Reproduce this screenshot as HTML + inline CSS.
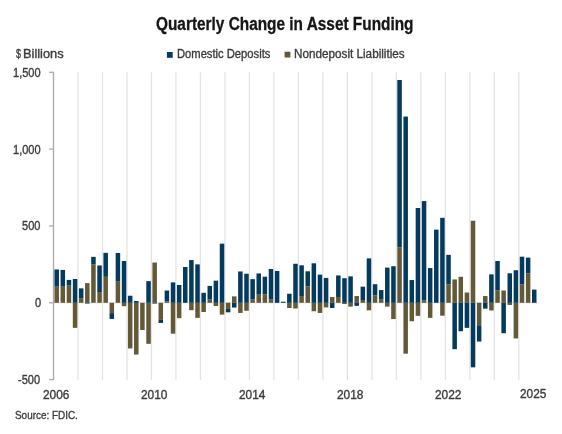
<!DOCTYPE html>
<html><head><meta charset="utf-8">
<style>
html,body{margin:0;padding:0;background:#fff;}
body{width:562px;height:434px;position:relative;overflow:hidden;font-family:"Liberation Sans",sans-serif;}
.t{position:absolute;white-space:nowrap;line-height:1;transform-origin:0 0;-webkit-text-stroke:0.35px currentColor;}
.t:first-of-type{-webkit-text-stroke:0.3px currentColor;}
svg{position:absolute;left:0;top:0;}
#wrap{position:absolute;left:0;top:0;width:562px;height:434px;filter:blur(0.35px);}
</style></head><body><div id="wrap">
<svg width="562" height="434" viewBox="0 0 562 434">
<line x1="77.99" y1="72.3" x2="77.99" y2="380" stroke="#e4e4e4" stroke-width="1.3"/>
<line x1="102.48" y1="72.3" x2="102.48" y2="380" stroke="#e4e4e4" stroke-width="1.3"/>
<line x1="126.97" y1="72.3" x2="126.97" y2="380" stroke="#e4e4e4" stroke-width="1.3"/>
<line x1="151.46" y1="72.3" x2="151.46" y2="380" stroke="#e4e4e4" stroke-width="1.3"/>
<line x1="175.95" y1="72.3" x2="175.95" y2="380" stroke="#e4e4e4" stroke-width="1.3"/>
<line x1="200.44" y1="72.3" x2="200.44" y2="380" stroke="#e4e4e4" stroke-width="1.3"/>
<line x1="224.93" y1="72.3" x2="224.93" y2="380" stroke="#e4e4e4" stroke-width="1.3"/>
<line x1="249.42" y1="72.3" x2="249.42" y2="380" stroke="#e4e4e4" stroke-width="1.3"/>
<line x1="273.91" y1="72.3" x2="273.91" y2="380" stroke="#e4e4e4" stroke-width="1.3"/>
<line x1="298.40" y1="72.3" x2="298.40" y2="380" stroke="#e4e4e4" stroke-width="1.3"/>
<line x1="322.89" y1="72.3" x2="322.89" y2="380" stroke="#e4e4e4" stroke-width="1.3"/>
<line x1="347.38" y1="72.3" x2="347.38" y2="380" stroke="#e4e4e4" stroke-width="1.3"/>
<line x1="371.87" y1="72.3" x2="371.87" y2="380" stroke="#e4e4e4" stroke-width="1.3"/>
<line x1="396.36" y1="72.3" x2="396.36" y2="380" stroke="#e4e4e4" stroke-width="1.3"/>
<line x1="420.85" y1="72.3" x2="420.85" y2="380" stroke="#e4e4e4" stroke-width="1.3"/>
<line x1="445.34" y1="72.3" x2="445.34" y2="380" stroke="#e4e4e4" stroke-width="1.3"/>
<line x1="469.83" y1="72.3" x2="469.83" y2="380" stroke="#e4e4e4" stroke-width="1.3"/>
<line x1="494.32" y1="72.3" x2="494.32" y2="380" stroke="#e4e4e4" stroke-width="1.3"/>
<line x1="518.81" y1="72.3" x2="518.81" y2="380" stroke="#e4e4e4" stroke-width="1.3"/>
<line x1="53.5" y1="302.8" x2="537" y2="302.8" stroke="#dadada" stroke-width="1"/>
<line x1="53.5" y1="72.3" x2="53.5" y2="380" stroke="#a8a8a8" stroke-width="1.3"/>
<line x1="49" y1="72.30" x2="54" y2="72.30" stroke="#a8a8a8" stroke-width="1.2"/>
<line x1="49" y1="149.13" x2="54" y2="149.13" stroke="#a8a8a8" stroke-width="1.2"/>
<line x1="49" y1="225.97" x2="54" y2="225.97" stroke="#a8a8a8" stroke-width="1.2"/>
<line x1="49" y1="302.80" x2="54" y2="302.80" stroke="#a8a8a8" stroke-width="1.2"/>
<line x1="49" y1="379.63" x2="54" y2="379.63" stroke="#a8a8a8" stroke-width="1.2"/>
<rect x="54.45" y="286.66" width="4.5" height="16.14" fill="#645936"/>
<rect x="54.45" y="269.45" width="4.5" height="17.21" fill="#033a5e"/>
<rect x="60.57" y="286.66" width="4.5" height="16.14" fill="#645936"/>
<rect x="60.57" y="269.91" width="4.5" height="16.75" fill="#033a5e"/>
<rect x="66.70" y="285.59" width="4.5" height="17.21" fill="#645936"/>
<rect x="66.70" y="279.90" width="4.5" height="5.69" fill="#033a5e"/>
<rect x="72.82" y="302.80" width="4.5" height="25.05" fill="#645936"/>
<rect x="72.82" y="278.98" width="4.5" height="23.82" fill="#033a5e"/>
<rect x="78.94" y="298.19" width="4.5" height="4.61" fill="#645936"/>
<rect x="78.94" y="288.36" width="4.5" height="9.83" fill="#033a5e"/>
<rect x="85.06" y="283.13" width="4.5" height="19.67" fill="#645936"/>
<rect x="85.06" y="302.80" width="4.5" height="0.77" fill="#033a5e"/>
<rect x="91.19" y="264.38" width="4.5" height="38.42" fill="#645936"/>
<rect x="91.19" y="256.85" width="4.5" height="7.53" fill="#033a5e"/>
<rect x="97.31" y="292.04" width="4.5" height="10.76" fill="#645936"/>
<rect x="97.31" y="265.46" width="4.5" height="26.58" fill="#033a5e"/>
<rect x="103.43" y="276.83" width="4.5" height="25.97" fill="#645936"/>
<rect x="103.43" y="252.86" width="4.5" height="23.97" fill="#033a5e"/>
<rect x="109.55" y="302.80" width="4.5" height="10.30" fill="#645936"/>
<rect x="109.55" y="313.10" width="4.5" height="5.84" fill="#033a5e"/>
<rect x="115.67" y="281.59" width="4.5" height="21.21" fill="#645936"/>
<rect x="115.67" y="253.01" width="4.5" height="28.58" fill="#033a5e"/>
<rect x="121.80" y="302.80" width="4.5" height="3.38" fill="#645936"/>
<rect x="121.80" y="261.00" width="4.5" height="41.80" fill="#033a5e"/>
<rect x="127.92" y="302.80" width="4.5" height="45.64" fill="#645936"/>
<rect x="127.92" y="295.73" width="4.5" height="7.07" fill="#033a5e"/>
<rect x="134.04" y="302.80" width="4.5" height="51.79" fill="#645936"/>
<rect x="134.04" y="300.96" width="4.5" height="1.84" fill="#033a5e"/>
<rect x="140.16" y="302.80" width="4.5" height="27.20" fill="#645936"/>
<rect x="146.29" y="302.80" width="4.5" height="41.03" fill="#645936"/>
<rect x="146.29" y="281.13" width="4.5" height="21.67" fill="#033a5e"/>
<rect x="152.41" y="262.54" width="4.5" height="40.26" fill="#645936"/>
<rect x="152.41" y="302.80" width="4.5" height="0.77" fill="#033a5e"/>
<rect x="158.53" y="302.80" width="4.5" height="16.60" fill="#645936"/>
<rect x="158.53" y="319.40" width="4.5" height="3.53" fill="#033a5e"/>
<rect x="164.66" y="301.42" width="4.5" height="1.38" fill="#645936"/>
<rect x="164.66" y="290.51" width="4.5" height="10.91" fill="#033a5e"/>
<rect x="170.78" y="302.80" width="4.5" height="30.89" fill="#645936"/>
<rect x="170.78" y="282.36" width="4.5" height="20.44" fill="#033a5e"/>
<rect x="176.90" y="302.80" width="4.5" height="15.37" fill="#645936"/>
<rect x="176.90" y="284.97" width="4.5" height="17.83" fill="#033a5e"/>
<rect x="183.02" y="266.99" width="4.5" height="35.81" fill="#033a5e"/>
<rect x="189.14" y="302.80" width="4.5" height="7.38" fill="#645936"/>
<rect x="189.14" y="260.08" width="4.5" height="42.72" fill="#033a5e"/>
<rect x="195.27" y="302.80" width="4.5" height="15.06" fill="#645936"/>
<rect x="195.27" y="264.38" width="4.5" height="38.42" fill="#033a5e"/>
<rect x="201.39" y="302.80" width="4.5" height="9.22" fill="#645936"/>
<rect x="201.39" y="292.81" width="4.5" height="9.99" fill="#033a5e"/>
<rect x="207.51" y="299.57" width="4.5" height="3.23" fill="#645936"/>
<rect x="207.51" y="285.90" width="4.5" height="13.68" fill="#033a5e"/>
<rect x="213.63" y="302.80" width="4.5" height="3.23" fill="#645936"/>
<rect x="213.63" y="280.67" width="4.5" height="22.13" fill="#033a5e"/>
<rect x="219.76" y="302.80" width="4.5" height="11.83" fill="#645936"/>
<rect x="219.76" y="243.64" width="4.5" height="59.16" fill="#033a5e"/>
<rect x="225.88" y="302.80" width="4.5" height="6.15" fill="#645936"/>
<rect x="225.88" y="308.95" width="4.5" height="3.38" fill="#033a5e"/>
<rect x="232.00" y="296.35" width="4.5" height="6.45" fill="#645936"/>
<rect x="232.00" y="302.80" width="4.5" height="4.76" fill="#033a5e"/>
<rect x="238.12" y="302.80" width="4.5" height="10.14" fill="#645936"/>
<rect x="238.12" y="271.45" width="4.5" height="31.35" fill="#033a5e"/>
<rect x="244.25" y="302.80" width="4.5" height="7.99" fill="#645936"/>
<rect x="244.25" y="273.76" width="4.5" height="29.04" fill="#033a5e"/>
<rect x="250.37" y="299.27" width="4.5" height="3.53" fill="#645936"/>
<rect x="250.37" y="279.13" width="4.5" height="20.13" fill="#033a5e"/>
<rect x="256.49" y="294.66" width="4.5" height="8.14" fill="#645936"/>
<rect x="256.49" y="273.45" width="4.5" height="21.21" fill="#033a5e"/>
<rect x="262.62" y="294.35" width="4.5" height="8.45" fill="#645936"/>
<rect x="262.62" y="276.68" width="4.5" height="17.67" fill="#033a5e"/>
<rect x="268.74" y="299.57" width="4.5" height="3.23" fill="#645936"/>
<rect x="268.74" y="268.99" width="4.5" height="30.58" fill="#033a5e"/>
<rect x="274.86" y="270.99" width="4.5" height="31.81" fill="#033a5e"/>
<rect x="280.98" y="301.72" width="4.5" height="1.08" fill="#033a5e"/>
<rect x="287.10" y="302.80" width="4.5" height="5.22" fill="#645936"/>
<rect x="287.10" y="293.73" width="4.5" height="9.07" fill="#033a5e"/>
<rect x="293.23" y="302.80" width="4.5" height="5.69" fill="#645936"/>
<rect x="293.23" y="263.77" width="4.5" height="39.03" fill="#033a5e"/>
<rect x="299.35" y="296.04" width="4.5" height="6.76" fill="#645936"/>
<rect x="299.35" y="265.30" width="4.5" height="30.73" fill="#033a5e"/>
<rect x="305.47" y="286.36" width="4.5" height="16.44" fill="#645936"/>
<rect x="305.47" y="271.30" width="4.5" height="15.06" fill="#033a5e"/>
<rect x="311.59" y="302.80" width="4.5" height="8.45" fill="#645936"/>
<rect x="311.59" y="263.31" width="4.5" height="39.49" fill="#033a5e"/>
<rect x="317.72" y="302.80" width="4.5" height="10.14" fill="#645936"/>
<rect x="317.72" y="274.68" width="4.5" height="28.12" fill="#033a5e"/>
<rect x="323.84" y="302.80" width="4.5" height="4.61" fill="#645936"/>
<rect x="323.84" y="277.91" width="4.5" height="24.89" fill="#033a5e"/>
<rect x="329.96" y="296.96" width="4.5" height="5.84" fill="#645936"/>
<rect x="329.96" y="302.80" width="4.5" height="5.22" fill="#033a5e"/>
<rect x="336.08" y="296.96" width="4.5" height="5.84" fill="#645936"/>
<rect x="336.08" y="275.45" width="4.5" height="21.51" fill="#033a5e"/>
<rect x="342.21" y="302.80" width="4.5" height="1.23" fill="#645936"/>
<rect x="342.21" y="278.21" width="4.5" height="24.59" fill="#033a5e"/>
<rect x="348.33" y="302.80" width="4.5" height="3.84" fill="#645936"/>
<rect x="348.33" y="276.37" width="4.5" height="26.43" fill="#033a5e"/>
<rect x="354.45" y="296.04" width="4.5" height="6.76" fill="#645936"/>
<rect x="354.45" y="302.80" width="4.5" height="3.07" fill="#033a5e"/>
<rect x="360.57" y="300.03" width="4.5" height="2.77" fill="#645936"/>
<rect x="360.57" y="286.66" width="4.5" height="13.37" fill="#033a5e"/>
<rect x="366.70" y="302.80" width="4.5" height="7.53" fill="#645936"/>
<rect x="366.70" y="258.39" width="4.5" height="44.41" fill="#033a5e"/>
<rect x="372.82" y="295.27" width="4.5" height="7.53" fill="#645936"/>
<rect x="372.82" y="284.21" width="4.5" height="11.06" fill="#033a5e"/>
<rect x="378.94" y="299.57" width="4.5" height="3.23" fill="#645936"/>
<rect x="378.94" y="290.05" width="4.5" height="9.53" fill="#033a5e"/>
<rect x="385.06" y="302.80" width="4.5" height="3.84" fill="#645936"/>
<rect x="385.06" y="267.61" width="4.5" height="35.19" fill="#033a5e"/>
<rect x="391.19" y="302.80" width="4.5" height="16.29" fill="#645936"/>
<rect x="391.19" y="266.23" width="4.5" height="36.57" fill="#033a5e"/>
<rect x="397.31" y="247.33" width="4.5" height="55.47" fill="#645936"/>
<rect x="397.31" y="79.98" width="4.5" height="167.35" fill="#033a5e"/>
<rect x="403.43" y="302.80" width="4.5" height="50.86" fill="#645936"/>
<rect x="403.43" y="116.55" width="4.5" height="186.25" fill="#033a5e"/>
<rect x="409.55" y="302.80" width="4.5" height="18.44" fill="#645936"/>
<rect x="409.55" y="280.06" width="4.5" height="22.74" fill="#033a5e"/>
<rect x="415.68" y="302.80" width="4.5" height="13.06" fill="#645936"/>
<rect x="415.68" y="207.99" width="4.5" height="94.81" fill="#033a5e"/>
<rect x="421.80" y="300.34" width="4.5" height="2.46" fill="#645936"/>
<rect x="421.80" y="201.07" width="4.5" height="99.27" fill="#033a5e"/>
<rect x="427.92" y="302.80" width="4.5" height="15.06" fill="#645936"/>
<rect x="427.92" y="268.07" width="4.5" height="34.73" fill="#033a5e"/>
<rect x="434.04" y="229.65" width="4.5" height="73.15" fill="#033a5e"/>
<rect x="440.17" y="302.80" width="4.5" height="12.91" fill="#645936"/>
<rect x="440.17" y="217.82" width="4.5" height="84.98" fill="#033a5e"/>
<rect x="446.29" y="284.36" width="4.5" height="18.44" fill="#645936"/>
<rect x="446.29" y="254.85" width="4.5" height="29.50" fill="#033a5e"/>
<rect x="452.41" y="279.44" width="4.5" height="23.36" fill="#645936"/>
<rect x="452.41" y="302.80" width="4.5" height="46.41" fill="#033a5e"/>
<rect x="458.53" y="276.83" width="4.5" height="25.97" fill="#645936"/>
<rect x="458.53" y="302.80" width="4.5" height="28.43" fill="#033a5e"/>
<rect x="464.66" y="292.50" width="4.5" height="10.30" fill="#645936"/>
<rect x="464.66" y="302.80" width="4.5" height="25.05" fill="#033a5e"/>
<rect x="470.78" y="220.74" width="4.5" height="82.06" fill="#645936"/>
<rect x="470.78" y="302.80" width="4.5" height="64.54" fill="#033a5e"/>
<rect x="476.90" y="302.80" width="4.5" height="22.44" fill="#645936"/>
<rect x="476.90" y="325.24" width="4.5" height="16.29" fill="#033a5e"/>
<rect x="483.02" y="296.04" width="4.5" height="6.76" fill="#645936"/>
<rect x="483.02" y="302.80" width="4.5" height="5.84" fill="#033a5e"/>
<rect x="489.15" y="302.80" width="4.5" height="7.68" fill="#645936"/>
<rect x="489.15" y="274.37" width="4.5" height="28.43" fill="#033a5e"/>
<rect x="495.27" y="290.35" width="4.5" height="12.45" fill="#645936"/>
<rect x="495.27" y="261.00" width="4.5" height="29.35" fill="#033a5e"/>
<rect x="501.39" y="290.51" width="4.5" height="12.29" fill="#645936"/>
<rect x="501.39" y="302.80" width="4.5" height="30.43" fill="#033a5e"/>
<rect x="507.51" y="302.80" width="4.5" height="2.15" fill="#645936"/>
<rect x="507.51" y="273.30" width="4.5" height="29.50" fill="#033a5e"/>
<rect x="513.64" y="302.80" width="4.5" height="35.65" fill="#645936"/>
<rect x="513.64" y="270.22" width="4.5" height="32.58" fill="#033a5e"/>
<rect x="519.76" y="284.51" width="4.5" height="18.29" fill="#645936"/>
<rect x="519.76" y="256.70" width="4.5" height="27.81" fill="#033a5e"/>
<rect x="525.88" y="273.45" width="4.5" height="29.35" fill="#645936"/>
<rect x="525.88" y="257.62" width="4.5" height="15.83" fill="#033a5e"/>
<rect x="532.00" y="289.58" width="4.5" height="13.22" fill="#033a5e"/>
<rect x="166.9" y="52" width="5.8" height="5.8" fill="#033a5e"/>
<rect x="284.6" y="51.7" width="5.8" height="5.8" fill="#645936"/>
</svg>
<div class="t" style="left:155.95px;top:15px;font-size:18px;font-weight:bold;color:#151515;transform:scaleX(0.8545);">Quarterly Change in Asset Funding</div>
<div class="t" style="left:176.67px;top:48.2px;font-size:12px;font-weight:normal;color:#3b3b3b;transform:scaleX(0.9333);">Domestic Deposits</div>
<div class="t" style="left:294.32px;top:48.2px;font-size:12px;font-weight:normal;color:#3b3b3b;transform:scaleX(0.9759);">Nondeposit Liabilities</div>
<div class="t" style="left:15.5px;top:48.1px;font-size:12.5px;font-weight:normal;color:#3b3b3b;transform:scaleX(0.7143);">$</div>
<div class="t" style="left:22.97px;top:48.1px;font-size:12.5px;font-weight:normal;color:#3b3b3b;transform:scaleX(1.0263);">Billions</div>
<div class="t" style="left:12.9px;top:66.8px;font-size:12px;font-weight:normal;color:#3b3b3b;transform:scaleX(0.92);">1,500</div>
<div class="t" style="left:12.9px;top:143.8px;font-size:12px;font-weight:normal;color:#3b3b3b;transform:scaleX(0.92);">1,000</div>
<div class="t" style="left:22.1px;top:220.2px;font-size:12px;font-weight:normal;color:#3b3b3b;transform:scaleX(0.92);">500</div>
<div class="t" style="left:34.98px;top:297.2px;font-size:12px;font-weight:normal;color:#3b3b3b;transform:scaleX(0.92);">0</div>
<div class="t" style="left:18.42px;top:374.1px;font-size:12px;font-weight:normal;color:#3b3b3b;transform:scaleX(0.92);">-500</div>
<div class="t" style="left:43.08px;top:389.0px;font-size:12px;font-weight:normal;color:#3b3b3b;transform:scaleX(0.99);">2006</div>
<div class="t" style="left:141.24px;top:389.0px;font-size:12px;font-weight:normal;color:#3b3b3b;transform:scaleX(0.99);">2010</div>
<div class="t" style="left:238.74px;top:389.0px;font-size:12px;font-weight:normal;color:#3b3b3b;transform:scaleX(0.99);">2014</div>
<div class="t" style="left:337.24px;top:389.0px;font-size:12px;font-weight:normal;color:#3b3b3b;transform:scaleX(0.99);">2018</div>
<div class="t" style="left:434.94px;top:388.9px;font-size:12px;font-weight:normal;color:#3b3b3b;transform:scaleX(0.99);">2022</div>
<div class="t" style="left:519.58px;top:388.0px;font-size:12px;font-weight:normal;color:#3b3b3b;transform:scaleX(0.99);">2025</div>
<div class="t" style="left:14.54px;top:409.7px;font-size:11.5px;font-weight:normal;color:#3b3b3b;transform:scaleX(0.862);">Source: FDIC.</div>
</div></body></html>
